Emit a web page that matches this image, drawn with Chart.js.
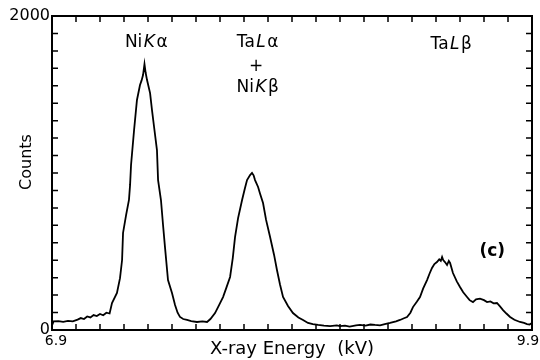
<!DOCTYPE html>
<html><head><meta charset="utf-8">
<script src="https://cdn.jsdelivr.net/npm/chart.js@4.4.0/dist/chart.umd.min.js"></script>
<style>html,body{margin:0;padding:0;background:#fff;}#wrap{width:540px;height:360px;position:relative;}</style>
</head><body><div id="wrap"><canvas id="c"></canvas></div>
<script>
// X-ray energy (kV)
const energy = [6.900,6.910,6.940,6.970,7.000,7.030,7.060,7.080,7.100,7.120,7.140,7.160,7.180,7.200,7.220,7.240,7.260,7.275,7.306,7.325,7.338,7.344,7.363,7.381,7.388,7.394,7.413,7.431,7.450,7.460,7.469,7.478,7.485,7.494,7.513,7.525,7.538,7.556,7.563,7.581,7.594,7.606,7.625,7.650,7.669,7.685,7.700,7.720,7.744,7.770,7.806,7.840,7.869,7.890,7.919,7.945,7.969,7.990,8.013,8.030,8.044,8.063,8.088,8.105,8.119,8.138,8.150,8.160,8.169,8.188,8.200,8.219,8.238,8.263,8.288,8.306,8.325,8.344,8.375,8.406,8.440,8.469,8.500,8.530,8.563,8.600,8.638,8.680,8.700,8.731,8.760,8.800,8.825,8.860,8.890,8.919,8.950,8.980,9.013,9.050,9.075,9.100,9.119,9.140,9.156,9.180,9.200,9.220,9.244,9.260,9.275,9.290,9.306,9.320,9.330,9.338,9.345,9.356,9.369,9.380,9.388,9.406,9.430,9.450,9.470,9.494,9.510,9.531,9.550,9.575,9.600,9.619,9.640,9.660,9.681,9.700,9.719,9.740,9.763,9.790,9.825,9.850,9.869,9.885,9.900];
// Counts
const counts = [30,55,57,52,58,55,66,76,70,86,80,95,89,102,94,110,105,172,236,330,446,618,732,828,924,1051,1274,1465,1560,1590,1624,1694,1640,1592,1509,1401,1293,1146,955,828,669,529,318,236,159,110,83,70,64,57,51,55,51,70,108,160,210,270,338,460,592,713,828,900,955,987,1000,985,955,911,870,809,701,592,478,382,290,210,153,108,80,64,45,38,32,28,25,30,25,28,22,30,32,28,35,32,30,38,45,55,64,75,83,110,146,180,210,265,318,360,395,420,433,450,440,465,445,433,414,440,427,363,310,274,240,210,190,178,195,200,190,178,182,170,172,150,127,105,83,65,51,45,38,35,45];

const xTickValues = [6.9, 9.9];
const xTickLabels = ['6.9', '9.9'];
const yTickValues = [0, 2000];
const yTickLabels = ['0', '2000'];
const xTitle = 'X-ray Energy  (kV)';
const yTitle = 'Counts';

// Peak annotations: text parts [text, italic?]
const annotations = [
  {x: 7.494, y: 1828, parts: [['Ni', false], ['K', true], ['α', false]]},
  {x: 8.19, y: 1828, parts: [['Ta', false], ['L', true], ['α', false]]},
  {x: 8.18, y: 1680, parts: [['+', false]]},
  {x: 8.19, y: 1545, parts: [['Ni', false], ['K', true], ['β', false]]},
  {x: 9.40, y: 1815, parts: [['Ta', false], ['L', true], ['β', false]]},
  {x: 9.656, y: 497, parts: [['(c)', false]], bold: true}
];

const FONT = '"DejaVu Sans", sans-serif';

const frameTicks = {
  id: 'frameTicks',
  afterDatasetsDraw(chart) {
    const {ctx, chartArea: a, scales: {x, y}} = chart;
    ctx.save();
    ctx.strokeStyle = '#000';
    ctx.lineWidth = 1.5;
    ctx.beginPath();
    x.ticks.forEach(t => {
      const px = x.getPixelForValue(t.value);
      ctx.moveTo(px, a.bottom); ctx.lineTo(px, a.bottom - 6);
      ctx.moveTo(px, a.top); ctx.lineTo(px, a.top + 6);
    });
    y.ticks.forEach(t => {
      const py = y.getPixelForValue(t.value);
      ctx.moveTo(a.left, py); ctx.lineTo(a.left + 6, py);
      ctx.moveTo(a.right, py); ctx.lineTo(a.right - 6, py);
    });
    ctx.stroke();
    ctx.lineWidth = 2;
    ctx.strokeRect(a.left, a.top, a.width, a.height);

    // x tick labels (nudged inward as in the original)
    ctx.fillStyle = '#000';
    ctx.font = '14px ' + FONT;
    ctx.textBaseline = 'middle';
    ctx.textAlign = 'center';
    xTickValues.forEach((v, i) => {
      const nudge = i === 0 ? 4 : -4;
      ctx.fillText(xTickLabels[i], x.getPixelForValue(v) + nudge, a.bottom + 11);
    });
    // axis titles
    ctx.font = '18px ' + FONT;
    ctx.fillText(xTitle, (a.left + a.right) / 2, 349);
    ctx.save();
    ctx.translate(27, 162);
    ctx.rotate(-Math.PI / 2);
    ctx.font = '16px ' + FONT;
    ctx.fillText(yTitle, 0, 0);
    ctx.restore();
    ctx.restore();
  }
};

const peakLabels = {
  id: 'peakLabels',
  afterDraw(chart) {
    const {ctx, scales: {x, y}} = chart;
    ctx.save();
    ctx.fillStyle = '#000';
    ctx.textBaseline = 'middle';
    ctx.textAlign = 'left';
    annotations.forEach(an => {
      const fontFor = it => (it ? 'italic ' : '') + (an.bold ? 'bold ' : '') + '17px ' + FONT;
      let total = 0;
      an.parts.forEach(p => { ctx.font = fontFor(p[1]); total += ctx.measureText(p[0]).width + 1.5; });
      let cx = x.getPixelForValue(an.x) - total / 2;
      const cy = y.getPixelForValue(an.y);
      an.parts.forEach(p => {
        ctx.font = fontFor(p[1]);
        ctx.fillText(p[0], cx, cy);
        cx += ctx.measureText(p[0]).width + 1.5;
      });
    });
    ctx.restore();
  }
};

new Chart(document.getElementById('c'), {
  type: 'line',
  data: {
    datasets: [{
      data: energy.map((e, i) => ({x: e, y: counts[i]})),
      borderColor: '#000',
      borderWidth: 1.8,
      pointRadius: 0,
      tension: 0,
      fill: false
    }]
  },
  options: {
    responsive: true,
    maintainAspectRatio: false,
    animation: false,
    layout: {padding: {top: 16, right: 8, left: 0, bottom: 0}},
    plugins: {legend: {display: false}, tooltip: {enabled: false}},
    scales: {
      x: {
        type: 'linear', min: 6.9, max: 9.9,
        grid: {display: false, drawTicks: false}, border: {display: false},
        afterBuildTicks(s) { const t = []; for (let i = 0; i <= 20; i++) t.push({value: 6.9 + i * 0.15}); s.ticks = t; },
        ticks: {display: false, autoSkip: false},
        title: {display: false},
        afterFit(s) { s.height = 30; s.paddingLeft = 0; s.paddingRight = 0; }
      },
      y: {
        type: 'linear', min: 0, max: 2000,
        grid: {display: false, drawTicks: false}, border: {display: false},
        afterBuildTicks(s) { const t = []; for (let i = 0; i <= 18; i++) t.push({value: i * 2000 / 18}); s.ticks = t; },
        ticks: {
          autoSkip: false, padding: 2, color: '#000',
          font: {family: FONT, size: 16},
          callback(v) { const k = yTickValues.findIndex(q => Math.abs(q - v) < 1e-6); return k >= 0 ? yTickLabels[k] : ''; }
        },
        title: {display: false},
        afterFit(s) { s.width = 52; s.paddingTop = 0; s.paddingBottom = 0; }
      }
    }
  },
  plugins: [frameTicks, peakLabels]
});
</script>
</body></html>
